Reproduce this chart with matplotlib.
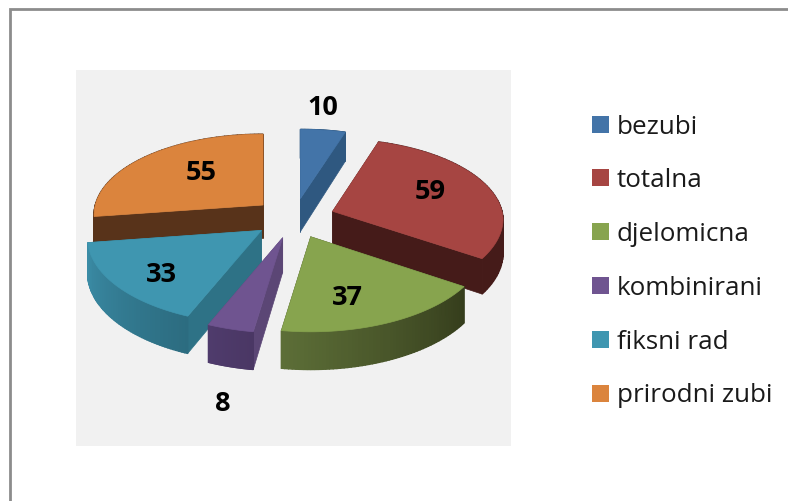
import numpy as np
import matplotlib
matplotlib.use('Agg')
import matplotlib.pyplot as plt
from matplotlib.patches import Polygon, Rectangle

# data
categories = ['bezubi', 'totalna', 'djelomicna', 'kombinirani', 'fiksni rad', 'prirodni zubi']
values = [10, 59, 37, 8, 33, 55]

# colours: top face, radial wall, outer wall at start and end of the arc
top_colors = ['#4374A8', '#A64542', '#87A44E', '#6F5490', '#3F96B0', '#DB843D']
wall_colors = ['#2F5880', '#451B19', '#3A421F', '#5B4675', '#2E7286', '#58331A']
outer_start = ['#2F5880', '#451B19', '#353D1C', '#4A3764', '#2C6C80', '#58331A']
outer_end = ['#2F5880', '#451B19', '#5C6E37', '#4F3B6C', '#3B8CA6', '#58331A']

# where the value labels sit, in pixels
label_x = [323, 430, 347, 223, 161, 201]
label_y = [108, 192, 298, 404, 275, 173]

# pie geometry in pixels
cx, cy = 294, 219
r = 171
k = 0.492        # squash of the tilted disc
pers_back = 0.12    # back is smaller
pers_front = 0.09   # front is bigger
depth = 34
explode = 41


def project(ox, oy, du, dv, z=0):
    # ox, oy is the slice's own offset, du, dv the point relative to its tip
    v = oy + dv
    s = 1 - (pers_back if v > 0 else pers_front) * v / r
    return cx + ox + du * s, cy - k * v * s + z * s


fig = plt.figure(figsize=(7.88, 5.02), dpi=100)
ax = fig.add_axes([0, 0, 1, 1])
ax.set_xlim(0, 788)
ax.set_ylim(502, 0)
ax.axis('off')

# outer frame and grey plot area
ax.add_patch(Rectangle((10.5, 9.5), 800, 520, fc='white', ec='#8C8C8C', lw=2.0))
ax.add_patch(Rectangle((76, 71), 435, 376, fc='#F1F1F1', ec='none'))

fr = np.array(values) / sum(values)
ends = np.cumsum(fr) * 2 * np.pi
starts = ends - fr * 2 * np.pi
mids = (starts + ends) / 2

# back slices first
order = np.argsort(-np.cos(mids))
for i in order:
    ox = explode * np.sin(mids[i])
    oy = explode * np.cos(mids[i])
    th = np.linspace(starts[i], ends[i], 60)
    du = r * np.sin(th)
    dv = r * np.cos(th)

    # radial walls
    for a in (starts[i], ends[i]):
        au, av = r * np.sin(a), r * np.cos(a)
        quad = [project(ox, oy, 0, 0), project(ox, oy, au, av),
                project(ox, oy, au, av, depth), project(ox, oy, 0, 0, depth)]
        ax.add_patch(Polygon(quad, fc=wall_colors[i], ec=wall_colors[i], lw=0.5))

    # outer wall, in strips so it can shade along the arc
    c0 = np.array(matplotlib.colors.to_rgb(outer_start[i]))
    c1 = np.array(matplotlib.colors.to_rgb(outer_end[i]))
    for j in range(len(th) - 1):
        t = j / (len(th) - 2)
        col = c0 + (c1 - c0) * t
        quad = [project(ox, oy, du[j], dv[j]), project(ox, oy, du[j + 1], dv[j + 1]),
                project(ox, oy, du[j + 1], dv[j + 1], depth), project(ox, oy, du[j], dv[j], depth)]
        ax.add_patch(Polygon(quad, fc=col, ec=col, lw=1.0))

    # top face
    pts = [project(ox, oy, 0, 0)] + [project(ox, oy, a, b) for a, b in zip(du, dv)]
    ax.add_patch(Polygon(pts, fc=top_colors[i], ec=top_colors[i], lw=0.5))

for i in range(len(values)):
    ax.text(label_x[i], label_y[i], str(values[i]), ha='center', va='center',
            fontsize=19.5, fontweight='bold', family='Open Sans', color='black')

# legend
for i in range(len(categories)):
    y = 125 + 53.8 * i
    ax.add_patch(Rectangle((592, y - 8.5), 17, 17, fc=top_colors[i], ec='none'))
    ax.text(617, y + 2, categories[i], ha='left', va='center', fontsize=18.7,
            family='Open Sans', color='#1A1A1A')

fig.savefig('out.png', dpi=100)
